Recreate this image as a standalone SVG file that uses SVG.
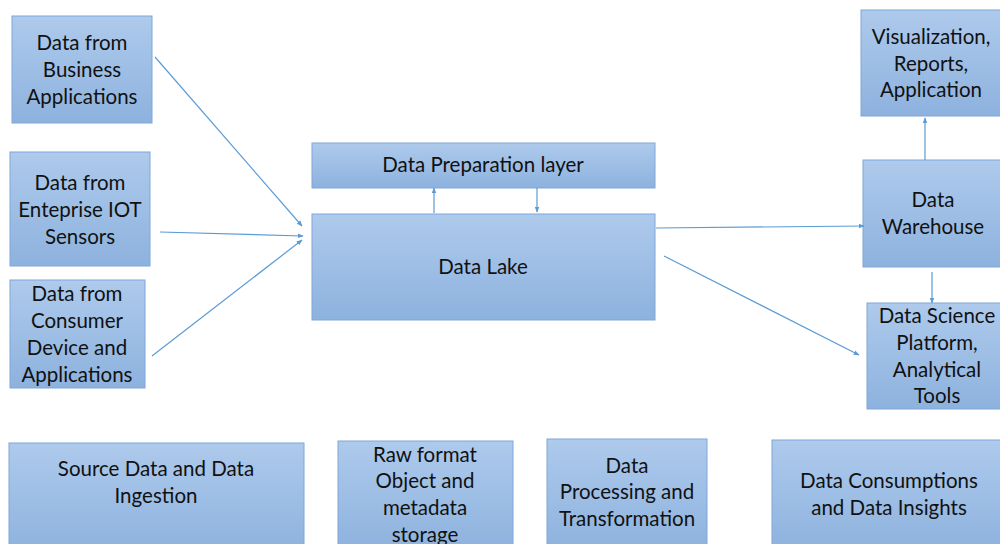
<svg xmlns="http://www.w3.org/2000/svg" width="1000" height="544" viewBox="0 0 1000 544">
  <defs>
    <linearGradient id="fill" x1="0" y1="0" x2="0" y2="1">
      <stop offset="0" stop-color="#aecaec"/>
      <stop offset="1" stop-color="#8db2de"/>
    </linearGradient>
    <marker id="arr" viewBox="0 0 10 10" refX="9" refY="5" markerWidth="6" markerHeight="6" orient="auto" markerUnits="userSpaceOnUse">
      <path d="M0,1 L10,5 L0,9 Z" fill="#5b9bd5"/>
    </marker>
  </defs>
  <style>
    .box { fill: url(#fill); stroke: #7fa7d8; stroke-width: 1; }
    .t { font-family: Lato, "Open Sans", sans-serif; font-size: 20.5px; fill: #111; text-anchor: middle; }
    .c { stroke: #5b9bd5; stroke-width: 1.2; fill: none; marker-end: url(#arr); }
  </style>
  <rect width="1000" height="544" fill="#ffffff"/>

  <!-- source systems -->
  <g id="src-business">
    <rect class="box" x="12" y="16" width="140" height="107"/>
    <text class="t" x="82" y="50">Data from</text>
    <text class="t" x="82" y="77">Business</text>
    <text class="t" x="82" y="104">Applications</text>
  </g>
  <g id="src-iot">
    <rect class="box" x="10" y="152" width="140" height="114"/>
    <text class="t" x="80" y="190">Data from</text>
    <text class="t" x="80" y="217">Enteprise IOT</text>
    <text class="t" x="80" y="244">Sensors</text>
  </g>
  <g id="src-consumer">
    <rect class="box" x="10" y="280" width="135" height="108"/>
    <text class="t" x="77" y="301">Data from</text>
    <text class="t" x="77" y="328">Consumer</text>
    <text class="t" x="77" y="355">Device and</text>
    <text class="t" x="77" y="382">Applications</text>
  </g>

  <!-- storage and preparation -->
  <g id="prep">
    <rect class="box" x="312" y="143" width="343" height="45"/>
    <text class="t" x="483" y="172">Data Preparation layer</text>
  </g>
  <g id="lake">
    <rect class="box" x="312" y="214" width="343" height="106"/>
    <text class="t" x="483" y="274">Data Lake</text>
  </g>

  <!-- consumers -->
  <g id="viz">
    <rect class="box" x="861" y="10" width="140" height="106"/>
    <text class="t" x="931" y="44">Visualization,</text>
    <text class="t" x="931" y="71">Reports,</text>
    <text class="t" x="931" y="97">Application</text>
  </g>
  <g id="warehouse">
    <rect class="box" x="863" y="160" width="138" height="107"/>
    <text class="t" x="933" y="207">Data</text>
    <text class="t" x="933" y="234">Warehouse</text>
  </g>
  <g id="science">
    <rect class="box" x="867" y="303" width="134" height="106"/>
    <text class="t" x="937" y="323">Data Science</text>
    <text class="t" x="937" y="350">Platform,</text>
    <text class="t" x="937" y="377">Analytical</text>
    <text class="t" x="937" y="403">Tools</text>
  </g>

  <!-- layer captions -->
  <g id="layer-source">
    <rect class="box" x="9" y="443" width="295" height="110"/>
    <text class="t" x="156" y="476">Source Data and Data</text>
    <text class="t" x="156" y="503">Ingestion</text>
  </g>
  <g id="layer-raw">
    <rect class="box" x="338" y="441" width="175" height="110"/>
    <text class="t" x="425" y="462">Raw format</text>
    <text class="t" x="425" y="488">Object and</text>
    <text class="t" x="425" y="515">metadata</text>
    <text class="t" x="425" y="542">storage</text>
  </g>
  <g id="layer-processing">
    <rect class="box" x="547" y="439" width="160" height="112"/>
    <text class="t" x="627" y="473">Data</text>
    <text class="t" x="627" y="499">Processing and</text>
    <text class="t" x="627" y="526">Transformation</text>
  </g>
  <g id="layer-consumption">
    <rect class="box" x="772" y="440" width="229" height="112"/>
    <text class="t" x="889" y="488">Data Consumptions</text>
    <text class="t" x="889" y="515">and Data Insights</text>
  </g>

  <g id="connectors">
    <line class="c" x1="155" y1="57" x2="302" y2="226"/>
    <line class="c" x1="160" y1="232" x2="303" y2="236"/>
    <line class="c" x1="152" y1="356" x2="302" y2="240"/>
    <line class="c" x1="434" y1="213" x2="434" y2="188"/>
    <line class="c" x1="537" y1="188" x2="537" y2="212"/>
    <line class="c" x1="656" y1="228" x2="864" y2="226"/>
    <line class="c" x1="664" y1="256" x2="859" y2="355"/>
    <line class="c" x1="925" y1="160" x2="925" y2="118"/>
    <line class="c" x1="932" y1="272" x2="932" y2="303"/>
  </g>
</svg>
